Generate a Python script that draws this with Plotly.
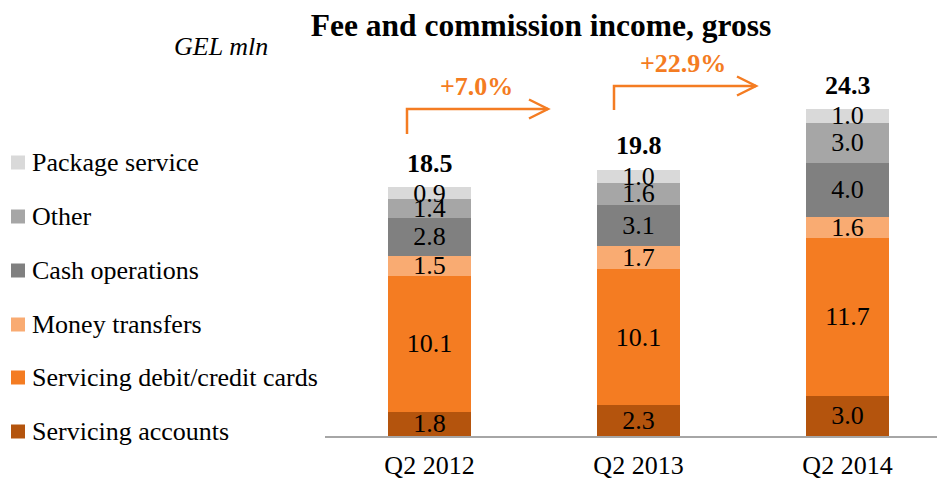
import plotly.graph_objects as go

categories = ["Q2 2012", "Q2 2013", "Q2 2014"]
series_names = ["Servicing accounts", "Servicing debit/credit cards", "Money transfers",
                "Cash operations", "Other", "Package service"]
servicing_accounts = [1.8, 2.3, 3.0]
servicing_cards = [10.1, 10.1, 11.7]
money_transfers = [1.5, 1.7, 1.6]
cash_operations = [2.8, 3.1, 4.0]
other = [1.4, 1.6, 3.0]
package_service = [0.9, 1.0, 1.0]
totals = [18.5, 19.8, 24.3]
growth_labels = ["+7.0%", "+22.9%"]

series_values = [servicing_accounts, servicing_cards, money_transfers,
                 cash_operations, other, package_service]
colors = ["#B4540D", "#F47C22", "#F9AB72", "#808080", "#A6A6A6", "#D9D9D9"]

FONT = "Liberation Serif, Times New Roman, serif"
OFF = 8  # page body margin of the browser
W, H = 945 - OFF, 481 - OFF
AX_X, AX_Y = 325, 436          # window position of plot-area left / baseline
L, B, T, R = AX_X - OFF, 481 - AX_Y, 37, 0
PW, PH = W - L - R, H - T - B
PX_PER_UNIT = 13.45
YMAX = PH / PX_PER_UNIT


def px(x):
    return (x - AX_X) / PW


def py(y):
    return (AX_Y - y) / PH


fig = go.Figure()
for name, vals, col in zip(series_names, series_values, colors):
    fig.add_trace(go.Bar(
        x=categories, y=vals, name=name,
        marker=dict(color=col, line=dict(width=0)),
        text=[f"{v:.1f}" for v in vals], textposition="inside",
        insidetextanchor="middle",
        textfont=dict(family=FONT, size=26, color="black"),
        width=0.4, hoverinfo="x+y+name",
    ))

annotations = []
for c, t in zip(categories, totals):
    annotations.append(dict(x=c, y=t, xref="x", yref="y", text=f"<b>{t:.1f}</b>",
                            showarrow=False, yanchor="middle", yshift=24,
                            font=dict(family=FONT, size=26, color="black")))

annotations.append(dict(x=px(221), y=py(47), xref="paper", yref="paper",
                        text="<i>GEL mln</i>", showarrow=False,
                        xanchor="center", yanchor="middle",
                        font=dict(family=FONT, size=26, color="black")))

orange = "#F47C22"
growth_pos = [(476, 86), (683, 63)]
for lab, (gx, gy) in zip(growth_labels, growth_pos):
    annotations.append(dict(x=px(gx), y=py(gy), xref="paper", yref="paper",
                            text=f"<b>{lab}</b>", showarrow=False,
                            xanchor="center", yanchor="middle",
                            font=dict(family=FONT, size=26, color=orange)))

shapes = []
# custom legend (top item = last stacked series)
legend_rows = [431, 377, 324, 270, 216, 162]
for name, col, ly in zip(series_names, colors, legend_rows):
    shapes.append(dict(type="rect", xref="paper", yref="paper",
                       x0=px(11), x1=px(25), y0=py(ly + 7.5), y1=py(ly - 6.5),
                       fillcolor=col, line=dict(width=0)))
    annotations.append(dict(x=px(30), y=py(ly), xref="paper", yref="paper",
                            text=name, showarrow=False, xanchor="left",
                            yanchor="middle",
                            font=dict(family=FONT, size=26, color="black")))

arrows = [
    [(407, 134), (407, 109), (548, 109)],
    [(614, 110), (614, 86), (756, 86)],
]
for pts in arrows:
    path = "M " + " L ".join(f"{px(x)},{py(y)}" for x, y in pts)
    shapes.append(dict(type="path", path=path, xref="paper", yref="paper",
                       line=dict(color=orange, width=2.5)))
    tx, ty = pts[-1]
    head = [(tx - 19, ty - 9.5), (tx, ty), (tx - 19, ty + 9.5)]
    hpath = "M " + " L ".join(f"{px(x)},{py(y)}" for x, y in head)
    shapes.append(dict(type="path", path=hpath, xref="paper", yref="paper",
                       line=dict(color=orange, width=2.5)))

fig.update_layout(
    width=W, height=H,
    margin=dict(l=L, r=R, t=T, b=B, pad=0, autoexpand=False),
    barmode="stack",
    plot_bgcolor="white", paper_bgcolor="white",
    font=dict(family=FONT, size=26, color="black"),
    title=dict(text="<b>Fee and commission income, gross</b>",
               x=(541 - OFF) / W, xref="container", xanchor="center",
               y=1 - (25 - OFF) / H, yref="container", yanchor="middle",
               font=dict(family=FONT, size=31.5, color="black")),
    uniformtext=dict(mode="show", minsize=26),
    showlegend=False,
    xaxis=dict(range=[-0.5, -0.5 + PW / 209], showline=True, linecolor="#A6A6A6",
               linewidth=1.5, ticks="", showgrid=False, zeroline=False,
               tickfont=dict(family=FONT, size=26, color="black"),
               ticklabelstandoff=5, fixedrange=True, automargin=False),
    yaxis=dict(range=[0, YMAX], visible=False, showgrid=False, zeroline=False,
               fixedrange=True),
    annotations=annotations,
    shapes=shapes,
)

fig.write_html("out.html")
